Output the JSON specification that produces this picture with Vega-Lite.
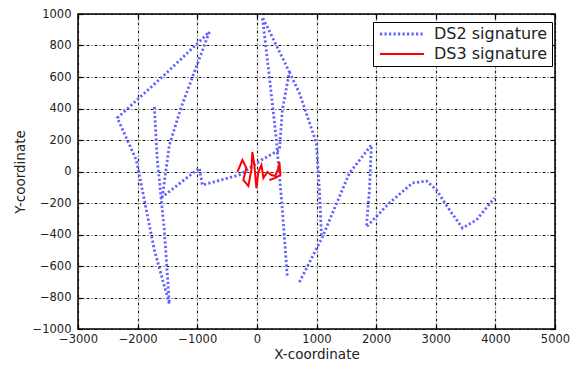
{
  "$schema": "https://vega.github.io/schema/vega-lite/v6.json",
  "width": 477,
  "height": 315,
  "autosize": "none",
  "padding": {"left": 78, "top": 14, "right": 15, "bottom": 40},
  "background": "white",
  "config": {
    "view": {"stroke": "black", "strokeWidth": 1.5},
    "font": "DejaVu Sans",
    "axis": {"labelFont": "DejaVu Sans", "titleFont": "DejaVu Sans", "labelColor": "#222", "titleColor": "#222", "labelFontSize": 11.5, "titleFontSize": 13.5, "titleFontWeight": "normal"}
  },
  "data": {
    "values": [
      {"s": "DS2 signature", "g": "a", "i": 1, "x": -1720, "y": 410},
      {"s": "DS2 signature", "g": "a", "i": 2, "x": -1670, "y": 73},
      {"s": "DS2 signature", "g": "a", "i": 3, "x": -1552, "y": -371},
      {"s": "DS2 signature", "g": "a", "i": 4, "x": -1468, "y": -841},
      {"s": "DS2 signature", "g": "a", "i": 5, "x": -1720, "y": -498},
      {"s": "DS2 signature", "g": "a", "i": 6, "x": -2022, "y": 73},
      {"s": "DS2 signature", "g": "a", "i": 7, "x": -2341, "y": 340},
      {"s": "DS2 signature", "g": "a", "i": 8, "x": -1552, "y": 613},
      {"s": "DS2 signature", "g": "a", "i": 9, "x": -797, "y": 886},
      {"s": "DS2 signature", "g": "a", "i": 10, "x": -1267, "y": 410},
      {"s": "DS2 signature", "g": "a", "i": 11, "x": -1468, "y": 168},
      {"s": "DS2 signature", "g": "a", "i": 12, "x": -1586, "y": -162},
      {"s": "DS2 signature", "g": "a", "i": 13, "x": -965, "y": 22},
      {"s": "DS2 signature", "g": "a", "i": 14, "x": -915, "y": -86},
      {"s": "DS2 signature", "g": "a", "i": 15, "x": -294, "y": -22},
      {"s": "DS2 signature", "g": "a", "i": 16, "x": 76, "y": 73},
      {"s": "DS2 signature", "g": "a", "i": 17, "x": 378, "y": 137},
      {"s": "DS2 signature", "g": "a", "i": 18, "x": 428, "y": 391},
      {"s": "DS2 signature", "g": "a", "i": 19, "x": 545, "y": 632},
      {"s": "DS2 signature", "g": "a", "i": 20, "x": 92, "y": 981},
      {"s": "DS2 signature", "g": "a", "i": 21, "x": 210, "y": 600},
      {"s": "DS2 signature", "g": "a", "i": 22, "x": 327, "y": 200},
      {"s": "DS2 signature", "g": "a", "i": 23, "x": 428, "y": -244},
      {"s": "DS2 signature", "g": "a", "i": 24, "x": 512, "y": -676},
      {"s": "DS2 signature", "g": "b", "i": 1, "x": 545, "y": 632},
      {"s": "DS2 signature", "g": "b", "i": 2, "x": 713, "y": 498},
      {"s": "DS2 signature", "g": "b", "i": 3, "x": 998, "y": 181},
      {"s": "DS2 signature", "g": "b", "i": 4, "x": 1049, "y": -117},
      {"s": "DS2 signature", "g": "b", "i": 5, "x": 1082, "y": -403},
      {"s": "DS2 signature", "g": "c", "i": 1, "x": 713, "y": -702},
      {"s": "DS2 signature", "g": "c", "i": 2, "x": 1099, "y": -416},
      {"s": "DS2 signature", "g": "c", "i": 3, "x": 1552, "y": -10},
      {"s": "DS2 signature", "g": "c", "i": 4, "x": 1921, "y": 168},
      {"s": "DS2 signature", "g": "c", "i": 5, "x": 1888, "y": -117},
      {"s": "DS2 signature", "g": "c", "i": 6, "x": 1837, "y": -352},
      {"s": "DS2 signature", "g": "c", "i": 7, "x": 2223, "y": -200},
      {"s": "DS2 signature", "g": "c", "i": 8, "x": 2609, "y": -73},
      {"s": "DS2 signature", "g": "c", "i": 9, "x": 2844, "y": -60},
      {"s": "DS2 signature", "g": "c", "i": 10, "x": 3012, "y": -117},
      {"s": "DS2 signature", "g": "c", "i": 11, "x": 3230, "y": -244},
      {"s": "DS2 signature", "g": "c", "i": 12, "x": 3448, "y": -359},
      {"s": "DS2 signature", "g": "c", "i": 13, "x": 3683, "y": -308},
      {"s": "DS2 signature", "g": "c", "i": 14, "x": 3985, "y": -168},
      {"s": "DS3 signature", "g": "r", "i": 1, "x": -327, "y": -3},
      {"s": "DS3 signature", "g": "r", "i": 2, "x": -243, "y": 73},
      {"s": "DS3 signature", "g": "r", "i": 3, "x": -176, "y": 22},
      {"s": "DS3 signature", "g": "r", "i": 4, "x": -227, "y": -54},
      {"s": "DS3 signature", "g": "r", "i": 5, "x": -143, "y": -92},
      {"s": "DS3 signature", "g": "r", "i": 6, "x": -92, "y": 10},
      {"s": "DS3 signature", "g": "r", "i": 7, "x": -76, "y": 124},
      {"s": "DS3 signature", "g": "r", "i": 8, "x": -42, "y": 41},
      {"s": "DS3 signature", "g": "r", "i": 9, "x": -8, "y": -105},
      {"s": "DS3 signature", "g": "r", "i": 10, "x": 25, "y": -3},
      {"s": "DS3 signature", "g": "r", "i": 11, "x": 76, "y": 41},
      {"s": "DS3 signature", "g": "r", "i": 12, "x": 109, "y": -41},
      {"s": "DS3 signature", "g": "r", "i": 13, "x": 176, "y": -3},
      {"s": "DS3 signature", "g": "r", "i": 14, "x": 243, "y": -22},
      {"s": "DS3 signature", "g": "r", "i": 15, "x": 310, "y": -29},
      {"s": "DS3 signature", "g": "r", "i": 16, "x": 361, "y": 22},
      {"s": "DS3 signature", "g": "r", "i": 17, "x": 378, "y": 60},
      {"s": "DS3 signature", "g": "r", "i": 18, "x": 394, "y": -22},
      {"s": "DS3 signature", "g": "r", "i": 19, "x": 310, "y": -41},
      {"s": "DS3 signature", "g": "r", "i": 20, "x": 210, "y": -54}
    ]
  },
  "resolve": {"axis": {"x": "independent", "y": "independent"}},
  "layer": [
    {
      "mark": {"type": "line", "strokeCap": "butt", "clip": true},
      "encoding": {
        "x": {"field": "x", "type": "quantitative", "scale": {"domain": [-3000, 5000], "nice": false, "zero": false},
          "axis": {"orient": "bottom", "title": "X-coordinate", "format": "d", "values": [-3000, -2000, -1000, 0, 1000, 2000, 3000, 4000, 5000], "grid": true, "gridColor": "#000", "gridDash": [3, 2, 1, 2], "gridWidth": 1.2, "gridOpacity": 0.85, "domain": false, "tickSize": -5, "tickColor": "#000", "tickWidth": 1.2, "labelPadding": 9, "labelFlush": false, "labelOverlap": false, "labelBound": false, "titlePadding": 3}},
        "y": {"field": "y", "type": "quantitative", "scale": {"domain": [-1000, 1000], "nice": false, "zero": false},
          "axis": {"orient": "left", "title": "Y-coordinate", "format": "d", "values": [-1000, -800, -600, -400, -200, 0, 200, 400, 600, 800, 1000], "grid": true, "gridColor": "#000", "gridDash": [3, 2, 1, 2], "gridWidth": 1.2, "gridOpacity": 0.85, "domain": false, "tickSize": -5, "tickColor": "#000", "tickWidth": 1.2, "labelPadding": 12, "labelFlush": false, "labelOverlap": false, "labelBound": false, "titlePadding": 5}},
        "color": {"field": "s", "type": "nominal", "scale": {"domain": ["DS2 signature", "DS3 signature"], "range": ["#6262ff", "#ff0000"]},
          "legend": {"title": null, "orient": "none", "legendX": 295, "legendY": 8, "strokeColor": "#000", "fillColor": "white", "padding": 4, "labelFont": "DejaVu Sans", "labelFontSize": 16, "labelColor": "#222", "symbolType": "M-4.4,0H4.4", "symbolSize": 100, "symbolOffset": 17, "symbolStrokeWidth": 2.5, "rowPadding": 4, "labelOffset": 24}},
        "strokeDash": {"field": "s", "type": "nominal", "scale": {"domain": ["DS2 signature", "DS3 signature"], "range": [[2.2, 2.3], [1, 0]]}, "legend": null},
        "strokeWidth": {"field": "s", "type": "nominal", "scale": {"domain": ["DS2 signature", "DS3 signature"], "range": [2.8, 2]}, "legend": null},
        "detail": {"field": "g"},
        "order": {"field": "i", "type": "quantitative"}
      }
    },
    {
      "mark": {"type": "point", "opacity": 0},
      "encoding": {
        "x": {"field": "x", "type": "quantitative", "axis": {"orient": "top", "title": null, "labels": false, "grid": false, "domain": false, "values": [-3000, -2000, -1000, 0, 1000, 2000, 3000, 4000, 5000], "tickSize": -5, "tickColor": "#000", "tickWidth": 1.2}},
        "y": {"field": "y", "type": "quantitative", "axis": {"orient": "right", "title": null, "labels": false, "grid": false, "domain": false, "values": [-1000, -800, -600, -400, -200, 0, 200, 400, 600, 800, 1000], "tickSize": -5, "tickColor": "#000", "tickWidth": 1.2}}
      }
    }
  ]
}
